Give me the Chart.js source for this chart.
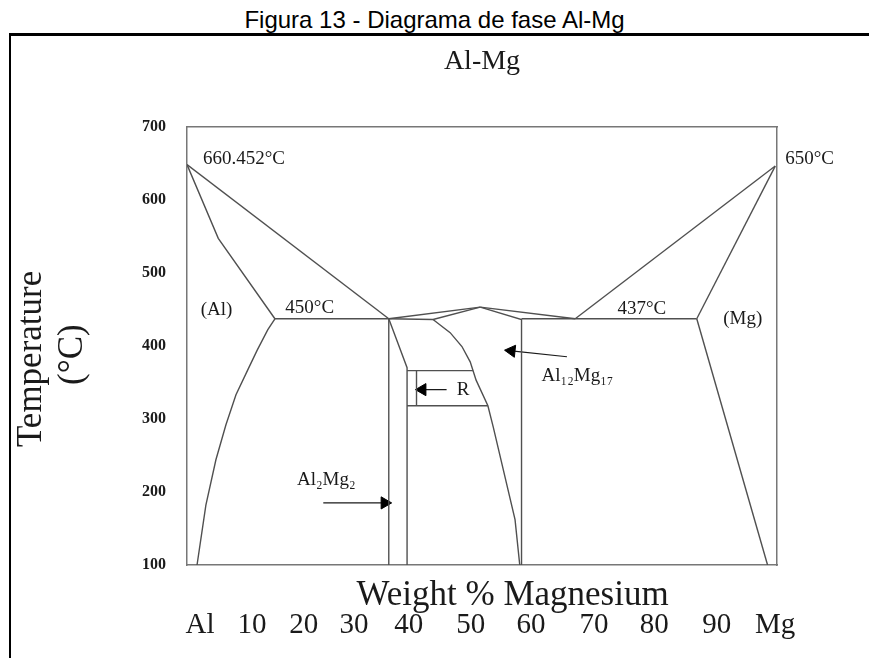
<!DOCTYPE html>
<html>
<head>
<meta charset="utf-8">
<title>Diagrama de fase Al-Mg</title>
<script src="https://cdn.jsdelivr.net/npm/chart.js@4.4.1/dist/chart.umd.min.js"></script>
<style>
  html, body { margin: 0; padding: 0; background: #fff; }
  body { width: 869px; height: 658px; position: relative; overflow: hidden; }
  #cap { position: absolute; left: 0; top: 8px; width: 869px; text-align: center;
         font: 24px "Liberation Sans", Arial, sans-serif; line-height: 24px; color: #000; }
  #frame { position: absolute; left: 9px; top: 33px; width: 860px; height: 625px;
           border-top: 3px solid #000; border-left: 2px solid #000; }
  #wrap { position: absolute; left: 11px; top: 36px; width: 858px; height: 622px; }
</style>
</head>
<body>
<div id="cap">Figura 13 - Diagrama de fase Al-Mg</div>
<div id="frame"></div>
<div id="wrap"><canvas id="c" width="858" height="622"></canvas></div>
<script>
/* Al-Mg phase diagram. x = weight % Mg, y = temperature (°C). */

// phase boundaries
var alLiquidus    = [[0, 648], [34.2, 437]];
var alSolidus     = [[0, 648], [5.3, 547], [14.9, 437]];
var alEutectic    = [[14.9, 437], [34.2, 437]];
var alSolvus      = [[14.9, 437], [13.7, 422], [11.9, 394], [10.3, 367], [8.3, 333], [6.6, 292], [4.9, 244], [3.2, 182], [1.7, 100]];
var betaLeft      = [[34.2, 437], [34.2, 100]];
var betaRight     = [[34.2, 437], [37.3, 370], [37.3, 100]];
var betaLiquidus  = [[34.2, 437], [49.7, 453]];
var betaTie       = [[34.2, 437], [41.7, 436]];
var gammaSolidusL = [[41.7, 436], [49.7, 453]];
var gammaSolvusL  = [[41.7, 436], [44.6, 418], [46.6, 399], [48.0, 378], [49.0, 353], [51.0, 318], [51.9, 289], [55.6, 162], [56.4, 100]];
var gammaSolidusR = [[49.7, 453], [56.7, 436], [56.7, 100]];
var gammaLiquidus = [[49.7, 453], [65.8, 437]];
var mgEutectic    = [[56.7, 437], [86.4, 437]];
var mgLiquidus    = [[65.8, 437], [99.7, 646]];
var mgSolidus     = [[99.7, 646], [86.4, 437]];
var mgSolvus      = [[86.4, 437], [98.4, 100]];
var rBoxTop       = [[37.3, 366], [48.5, 366]];
var rBoxBottom    = [[37.3, 318], [51.0, 318]];
var rTick         = [[38.9, 366], [38.9, 318]];

// arrows: tail, head
var arrowR     = [[44.0, 340], [39.9, 340]];
var arrowGamma = [[64.4, 385], [55.0, 393]];
var arrowBeta  = [[23.1, 185], [33.5, 185]];

// annotations
var noteText  = ["660.452°C", "650°C", "(Al)", "450°C", "437°C", "(Mg)", "R", "Al\u2081\u2082Mg\u2081\u2087", "Al\u2082Mg\u2082"];
var noteX     = [2.7, 101.4, 5.0, 20.8, 77.1, 94.2, 46.8, 60.1, 23.6];
var noteY     = [655, 655, 449, 452, 451, 436, 340, 358, 216];
var noteAlign = ["left", "left", "center", "center", "center", "center", "center", "left", "center"];

// ticks
var yTicks = [100, 200, 300, 400, 500, 600, 700];
var xTickLabels = ["Al", "10", "20", "30", "40", "50", "60", "70", "80", "90", "Mg"];
var xTickAt = [2.2, 11.0, 19.8, 28.3, 37.6, 48.1, 58.3, 69.0, 79.2, 89.8, 99.7];

(function () {
  "use strict";
  if (typeof Chart === "undefined") return;

  var LINE = "#505050";
  var FRAME = "#777";
  var INK = "#1a1a1a";
  var SERIF = "'Liberation Serif', 'Times New Roman', serif";

  function pts(a) { return a.map(function (p) { return { x: p[0], y: p[1] }; }); }

  var phaseLines = [alLiquidus, alSolidus, alEutectic, alSolvus, betaLeft, betaRight, betaLiquidus,
    betaTie, gammaSolidusL, gammaSolvusL, gammaSolidusR, gammaLiquidus, mgEutectic, mgLiquidus,
    mgSolidus, mgSolvus, rBoxTop, rBoxBottom, rTick];

  var datasets = phaseLines.map(function (l) {
    return { data: pts(l), showLine: true, borderColor: LINE, borderWidth: 1.4, pointRadius: 0, tension: 0 };
  });

  function arrow(a, rot) {
    return {
      data: pts(a), showLine: true, borderColor: INK, borderWidth: 1.2, tension: 0,
      pointRadius: [0, 7], pointStyle: "triangle", pointRotation: rot,
      pointBackgroundColor: "#000", pointBorderColor: "#000", pointBorderWidth: 1
    };
  }
  datasets.push(arrow(arrowR, -90), arrow(arrowGamma, -84), arrow(arrowBeta, 90));

  var notes = {
    id: "notes",
    afterDatasetsDraw: function (chart) {
      var ctx = chart.ctx, sx = chart.scales.x, sy = chart.scales.y;
      ctx.save();
      ctx.font = "19px " + SERIF;
      ctx.fillStyle = INK;
      ctx.textBaseline = "middle";
      noteText.forEach(function (t, i) {
        ctx.textAlign = noteAlign[i];
        ctx.fillText(t, sx.getPixelForValue(noteX[i]), sy.getPixelForValue(noteY[i]));
      });
      ctx.restore();
    }
  };

  var noGrid = { display: false, drawTicks: false };

  new Chart(document.getElementById("c"), {
    type: "scatter",
    data: { datasets: datasets },
    options: {
      responsive: false, animation: false, devicePixelRatio: 1,
      layout: { padding: { left: 0, right: 92, top: 0, bottom: 0 } },
      plugins: {
        legend: { display: false },
        tooltip: { enabled: false },
        title: {
          display: true, text: "Al-Mg", fullSize: false, color: INK,
          font: { family: SERIF, size: 28, weight: "normal" },
          padding: { top: 9, bottom: 48 }
        }
      },
      scales: {
        x: {
          type: "linear", position: "bottom", min: 0, max: 100, weight: 0,
          grid: noGrid, ticks: { display: false },
          border: { color: FRAME, width: 1.5 },
          title: {
            // leading spaces push the centred title right, as in the figure
            display: true, text: "       Weight % Magnesium", color: INK,
            font: { family: SERIF, size: 35, lineHeight: 1 }, padding: { top: 0, bottom: 0 }
          },
          afterFit: function (s) { s.height = 48; }
        },
        xl: {
          type: "linear", position: "bottom", min: 0, max: 100, weight: 1,
          grid: noGrid, border: { display: false },
          afterBuildTicks: function (s) { s.ticks = xTickAt.map(function (v) { return { value: v }; }); },
          ticks: {
            autoSkip: false, maxRotation: 0, padding: -2, color: INK,
            font: { family: SERIF, size: 29, lineHeight: 1 },
            callback: function (v, i) { return xTickLabels[i]; }
          },
          afterFit: function (s) { s.height = 45; }
        },
        xt: {
          type: "linear", position: "top", min: 0, max: 100,
          grid: noGrid, ticks: { display: false },
          border: { color: FRAME, width: 1.5 },
          afterFit: function (s) { s.height = 0; }
        },
        y: {
          type: "linear", position: "left", min: 100, max: 700,
          grid: noGrid, border: { color: FRAME, width: 1.5 },
          afterBuildTicks: function (s) { s.ticks = yTicks.map(function (v) { return { value: v }; }); },
          ticks: { color: INK, padding: 21, font: { family: SERIF, size: 16, weight: "bold" } },
          title: {
            display: true, text: ["Temperature   ", "(°C)  "], color: INK,
            font: { family: SERIF, size: 35, lineHeight: 1.18 }, padding: { top: 0, bottom: 0 }
          },
          afterFit: function (s) { s.width = 176; }
        },
        yr: {
          type: "linear", position: "right", min: 100, max: 700,
          grid: noGrid, ticks: { display: false },
          border: { color: FRAME, width: 1.5 },
          afterFit: function (s) { s.width = 0; }
        }
      }
    },
    plugins: [notes]
  });
})();
</script>
</body>
</html>
